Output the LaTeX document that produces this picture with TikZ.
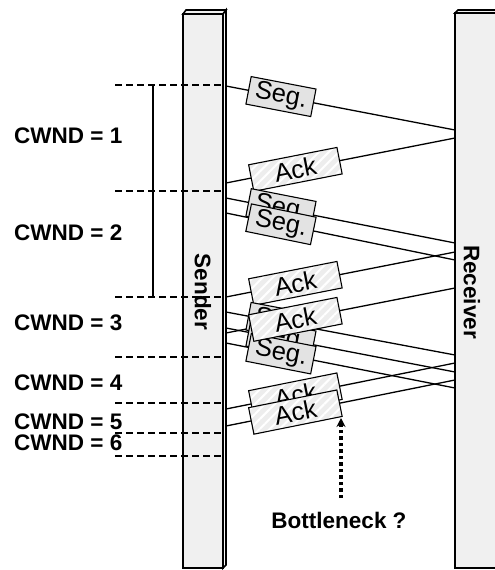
\documentclass[tikz,border=0pt]{standalone}
\usepackage{fontspec}
\setmainfont{Liberation Sans}
\usetikzlibrary{arrows.meta,patterns.meta}
\newcommand\lblfont{\fontsize{22.5}{26}\selectfont\bfseries}
\newcommand\boxfont{\fontsize{25.5}{28}\selectfont}

\begin{document}
\begin{tikzpicture}[x=1pt,y=-1pt,
    msg/.style={line width=1.3pt},
    host/.style={draw,line width=1.6pt,fill=gray!12},
    segbox/.style={draw,line width=1.1pt,fill=gray!22,sloped,inner sep=0pt,
        minimum width=66pt,minimum height=28pt,font=\boxfont},
    ackbox/.style={draw,line width=1.1pt,preaction={fill=gray!14},sloped,inner sep=0pt,
        pattern={Lines[angle=45,distance=7pt,line width=2pt]},pattern color=white,
        minimum width=90pt,minimum height=27pt,font=\boxfont},
    cwnd/.style={line width=1.2pt,dash pattern=on 7pt off 4pt},
    lbl/.style={font=\lblfont,inner sep=0pt}]

    \clip (0,0) rectangle (495,570);

    \draw[host] (183,14) rectangle (223,568);
    \draw[host] (183,14) -- (186,10) -- (226,10) -- (223,14) -- cycle;
    \draw[host,fill=gray!5] (223,14) -- (226,10) -- (226,565) -- (223,568) -- cycle;
    \node[lbl,rotate=-90] (SND) at (203,292) {Sender};

    \draw[host] (455,13) rectangle (505,568);
    \draw[host] (455,13) -- (458,10) -- (505,10) -- (505,13) -- cycle;
    \node[lbl,rotate=-90] (RCV) at (472,292) {Receiver};

    \foreach \n/\a/\b in {1/86/130,2/198/243,3/213/260,4/312/355,5/328/372,6/343/388} {
        \coordinate (SS\n) at (226,\a);
        \coordinate (SR\n) at (455,\b);
        \draw[msg] (SS\n) -- (SR\n);
    }
    \foreach \n/\a/\b in {1/138/183,2/252/297,3/288/333,4/363/409,5/380/426} {
        \coordinate (AR\n) at (455,\a);
        \coordinate (AS\n) at (226,\b);
        \draw[msg] (AR\n) -- (AS\n);
    }

    \path (SS1) -- (SR1) node[segbox,pos=.24] (SEG1) {Seg.};
    \path (AR1) -- (AS1) node[ackbox,pos=.697] (ACK1) {Ack};
    \path (SS2) -- (SR2) node[segbox,pos=.24] (SEG2) {Seg.};
    \path (SS3) -- (SR3) node[segbox,pos=.24] (SEG3) {Seg.};
    \path (AR2) -- (AS2) node[ackbox,pos=.697] (ACK2) {Ack};
    \path (SS4) -- (SR4) node[segbox,pos=.24] (SEG4) {Seg.};
    \path (SS5) -- (SR5) node[segbox,pos=.24] (SEG5) {Seg.};
    \path (SS6) -- (SR6) node[segbox,pos=.24] (SEG6) {Seg.};
    \path (AR3) -- (AS3) node[ackbox,pos=.697] (ACK3) {Ack};
    \path (AR4) -- (AS4) node[ackbox,pos=.697] (ACK4) {Ack};
    \path (AR5) -- (AS5) node[ackbox,pos=.697] (ACK5) {Ack};

    \foreach \n/\y in {0/85,1/191,2/297,3/357,4/403,5/433,6/456} {
        \coordinate (CL\n) at (115,\y);
        \coordinate (CR\n) at (226,\y);
        \draw[cwnd] (CL\n) -- (CR\n);
    }
    \coordinate (VT) at (153,85);
    \coordinate (VB) at (153,297);
    \draw[line width=1.3pt] (VT) -- (VB);

    \foreach \n/\y in {1/136,2/233,3/323,4/383,5/422,6/443}
        \node[lbl,anchor=west] (CW\n) at (14,\y) {CWND = \n};

    \node[lbl] (BN) at (339,520) {Bottleneck ?};
    \coordinate (BNfoot) at (341,498);
    \coordinate (BNtip) at (341,418);
    \draw[line width=3.5pt,dash pattern=on 3.5pt off 3pt,-{Stealth[length=9pt,width=9pt]}] (BNfoot) -- (BNtip);

\end{tikzpicture}
\end{document}
